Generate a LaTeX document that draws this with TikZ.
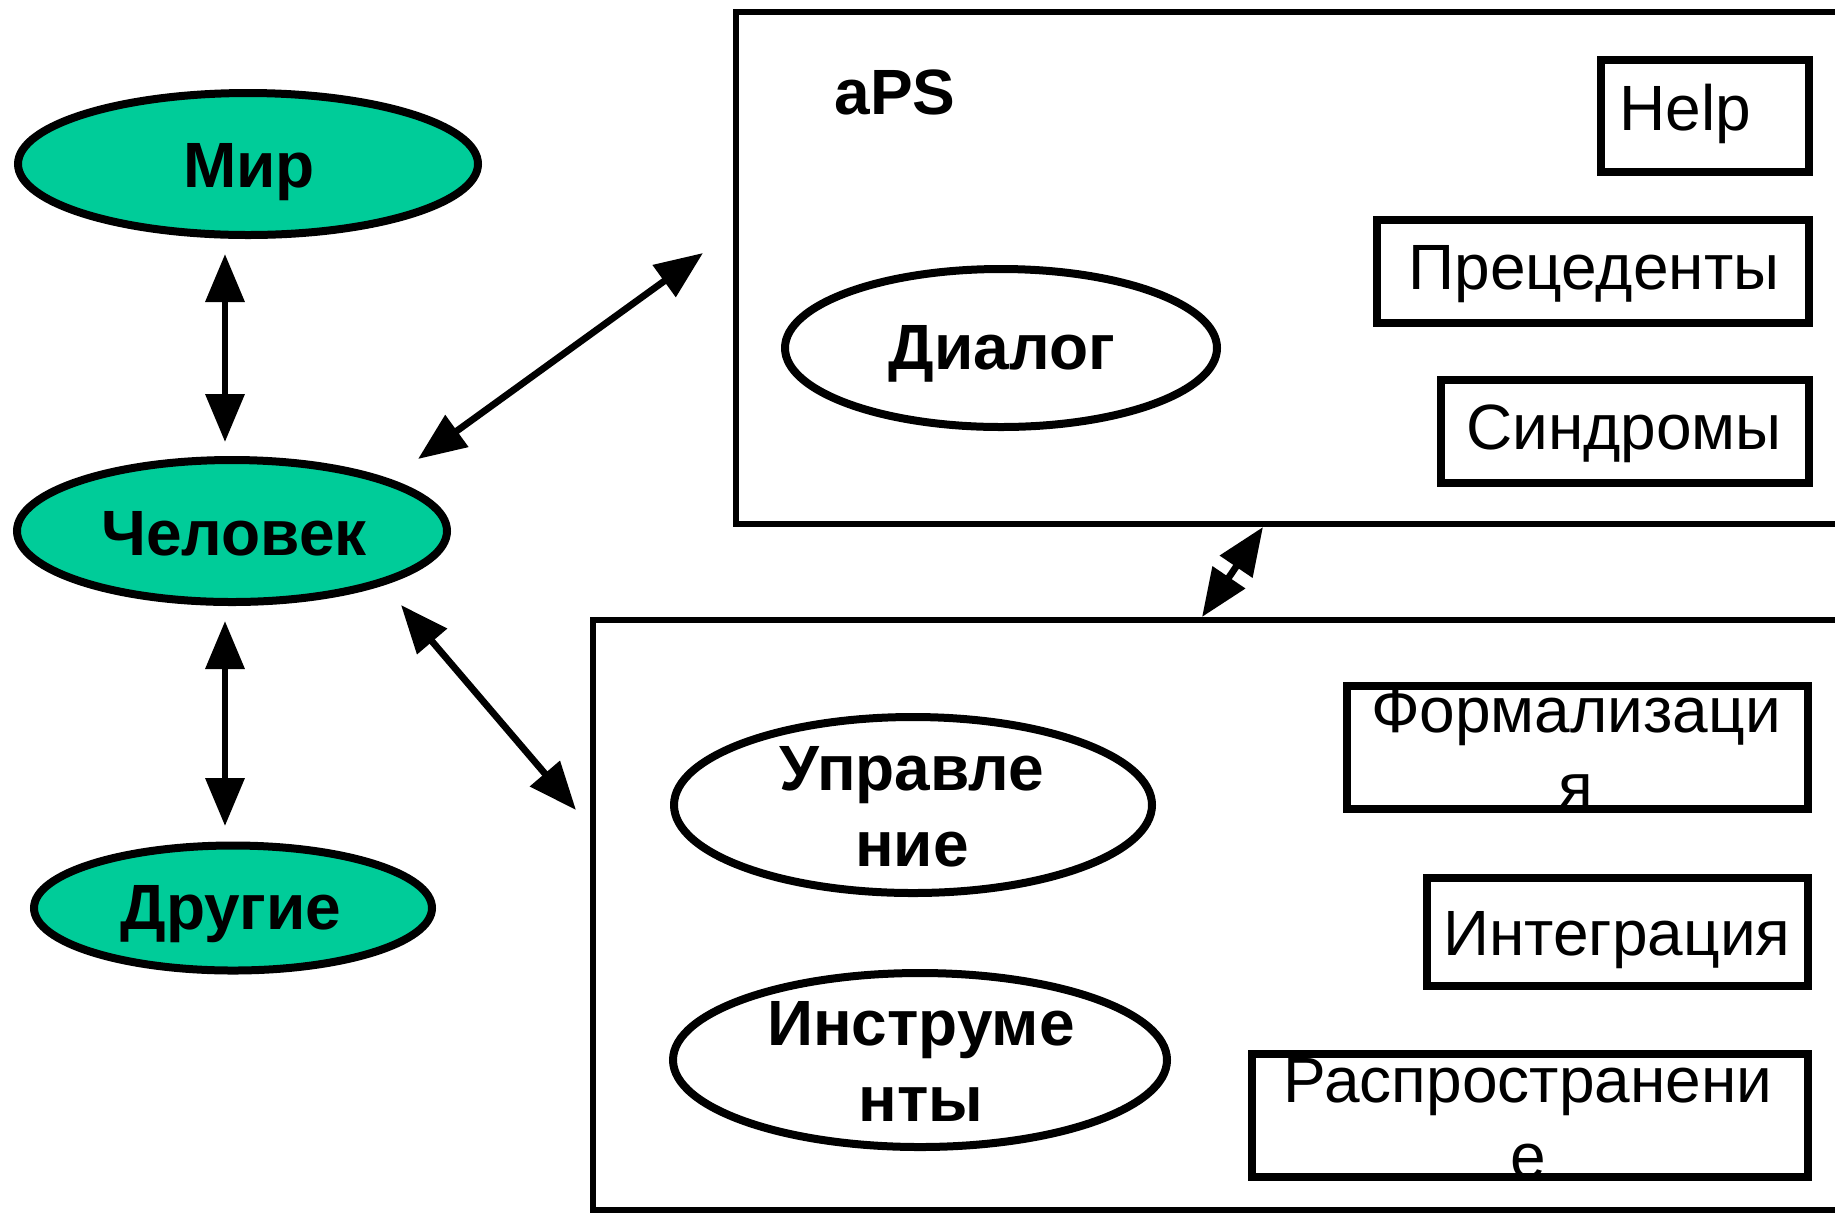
\documentclass[tikz,border=0pt]{standalone}
\usepackage{fontspec}
\setmainfont{Liberation Sans}
\usetikzlibrary{arrows.meta,shapes.geometric}
\definecolor{grn}{RGB}{0,204,153}
\begin{document}
\begin{tikzpicture}[x=0.5pt,y=-0.5pt,
  ell/.style={draw,ellipse,line width=4pt,inner sep=0pt},
  sbox/.style={draw,rectangle,line width=4pt,inner sep=0pt},
  bigbox/.style={draw,rectangle,line width=3pt,inner sep=0pt},
  bt/.style={font=\fontsize{32}{38}\selectfont\bfseries,inner sep=0pt,anchor=base},
  rt/.style={font=\fontsize{32}{38}\selectfont,inner sep=0pt,anchor=base},
  arr/.style={line width=3.4pt,{Triangle[length=24pt,width=19pt]}-{Triangle[length=24pt,width=19pt]}}
]
\useasboundingbox (0,0) rectangle (1835,1212);
\clip (0,0) rectangle (1835,1212);

% big boxes
\node[bigbox,minimum width=582pt,minimum height=256pt] (aps) at (1318,268) {};
\node[bigbox,minimum width=653.5pt,minimum height=295pt] (core) at (1246.5,915) {};

% ellipses
\node[ell,fill=grn,minimum width=230pt,minimum height=71pt] (mir) at (248,164) {};
\node[ell,fill=grn,minimum width=215pt,minimum height=71pt] (chel) at (232,531) {};
\node[ell,fill=grn,minimum width=199pt,minimum height=62.5pt] (drug) at (233,908) {};
\node[ell,minimum width=216pt,minimum height=79pt] (dial) at (1001,348) {};
\node[ell,minimum width=239pt,minimum height=88pt] (upr) at (913,805) {};
\node[ell,minimum width=247pt,minimum height=87pt] (instr) at (920,1060) {};

% small boxes
\node[sbox,minimum width=104pt,minimum height=56pt] (help) at (1705,116) {};
\node[sbox,minimum width=216pt,minimum height=51.5pt] (prec) at (1593,271.5) {};
\node[sbox,minimum width=184pt,minimum height=51.5pt] (synd) at (1625,431.5) {};
\node[sbox,minimum width=230.5pt,minimum height=61.5pt] (form) at (1577.5,747.5) {};
\node[sbox,minimum width=190.5pt,minimum height=54pt] (integ) at (1617.5,932) {};
\node[sbox,minimum width=278pt,minimum height=61.5pt] (rasp) at (1530,1115.5) {};

% texts
\node[bt] (tmir) at (249,187) {Мир};
\node[bt] (tchel) at (234,555) {Человек};
\node[bt] (tdrug) at (231,929) {Другие};
\node[bt] (taps) at (895,114) {aPS};
\node[bt] (tdial) at (1002,369) {Диалог};
\node[bt] (tupr) at (912,790) {\begin{tabular}[t]{@{}c@{}}Управле\\ние\end{tabular}};
\node[bt] (tinstr) at (921,1045) {\begin{tabular}[t]{@{}c@{}}Инструме\\нты\end{tabular}};
\node[rt] (thelp) at (1685,130) {Help};
\node[rt] (tprec) at (1594,289) {Прецеденты};
\node[rt] (tsynd) at (1624,449) {Синдромы};
\node[rt] (tform) at (1576,732) {\begin{tabular}[t]{@{}c@{}}Формализаци\\я\end{tabular}};
\node[rt] (tinteg) at (1617,955) {Интеграция};
\node[rt] (trasp) at (1528,1102) {\begin{tabular}[t]{@{}c@{}}Распространени\\е\end{tabular}};

% arrow end points
\coordinate (a1s) at (225,254);
\coordinate (a1e) at (225,442);
\coordinate (a2s) at (225,621);
\coordinate (a2e) at (225,826);
\coordinate (a3s) at (418,459);
\coordinate (a3e) at (703,253);
\coordinate (a4s) at (401,605);
\coordinate (a4e) at (576,810);
\coordinate (a5s) at (1263,527);
\coordinate (a5e) at (1202,617);

\draw[arr] (a1s) -- (a1e);
\draw[arr] (a2s) -- (a2e);
\draw[arr] (a3s) -- (a3e);
\draw[arr] (a4s) -- (a4e);
\draw[arr] (a5s) -- (a5e);
\end{tikzpicture}
\end{document}
